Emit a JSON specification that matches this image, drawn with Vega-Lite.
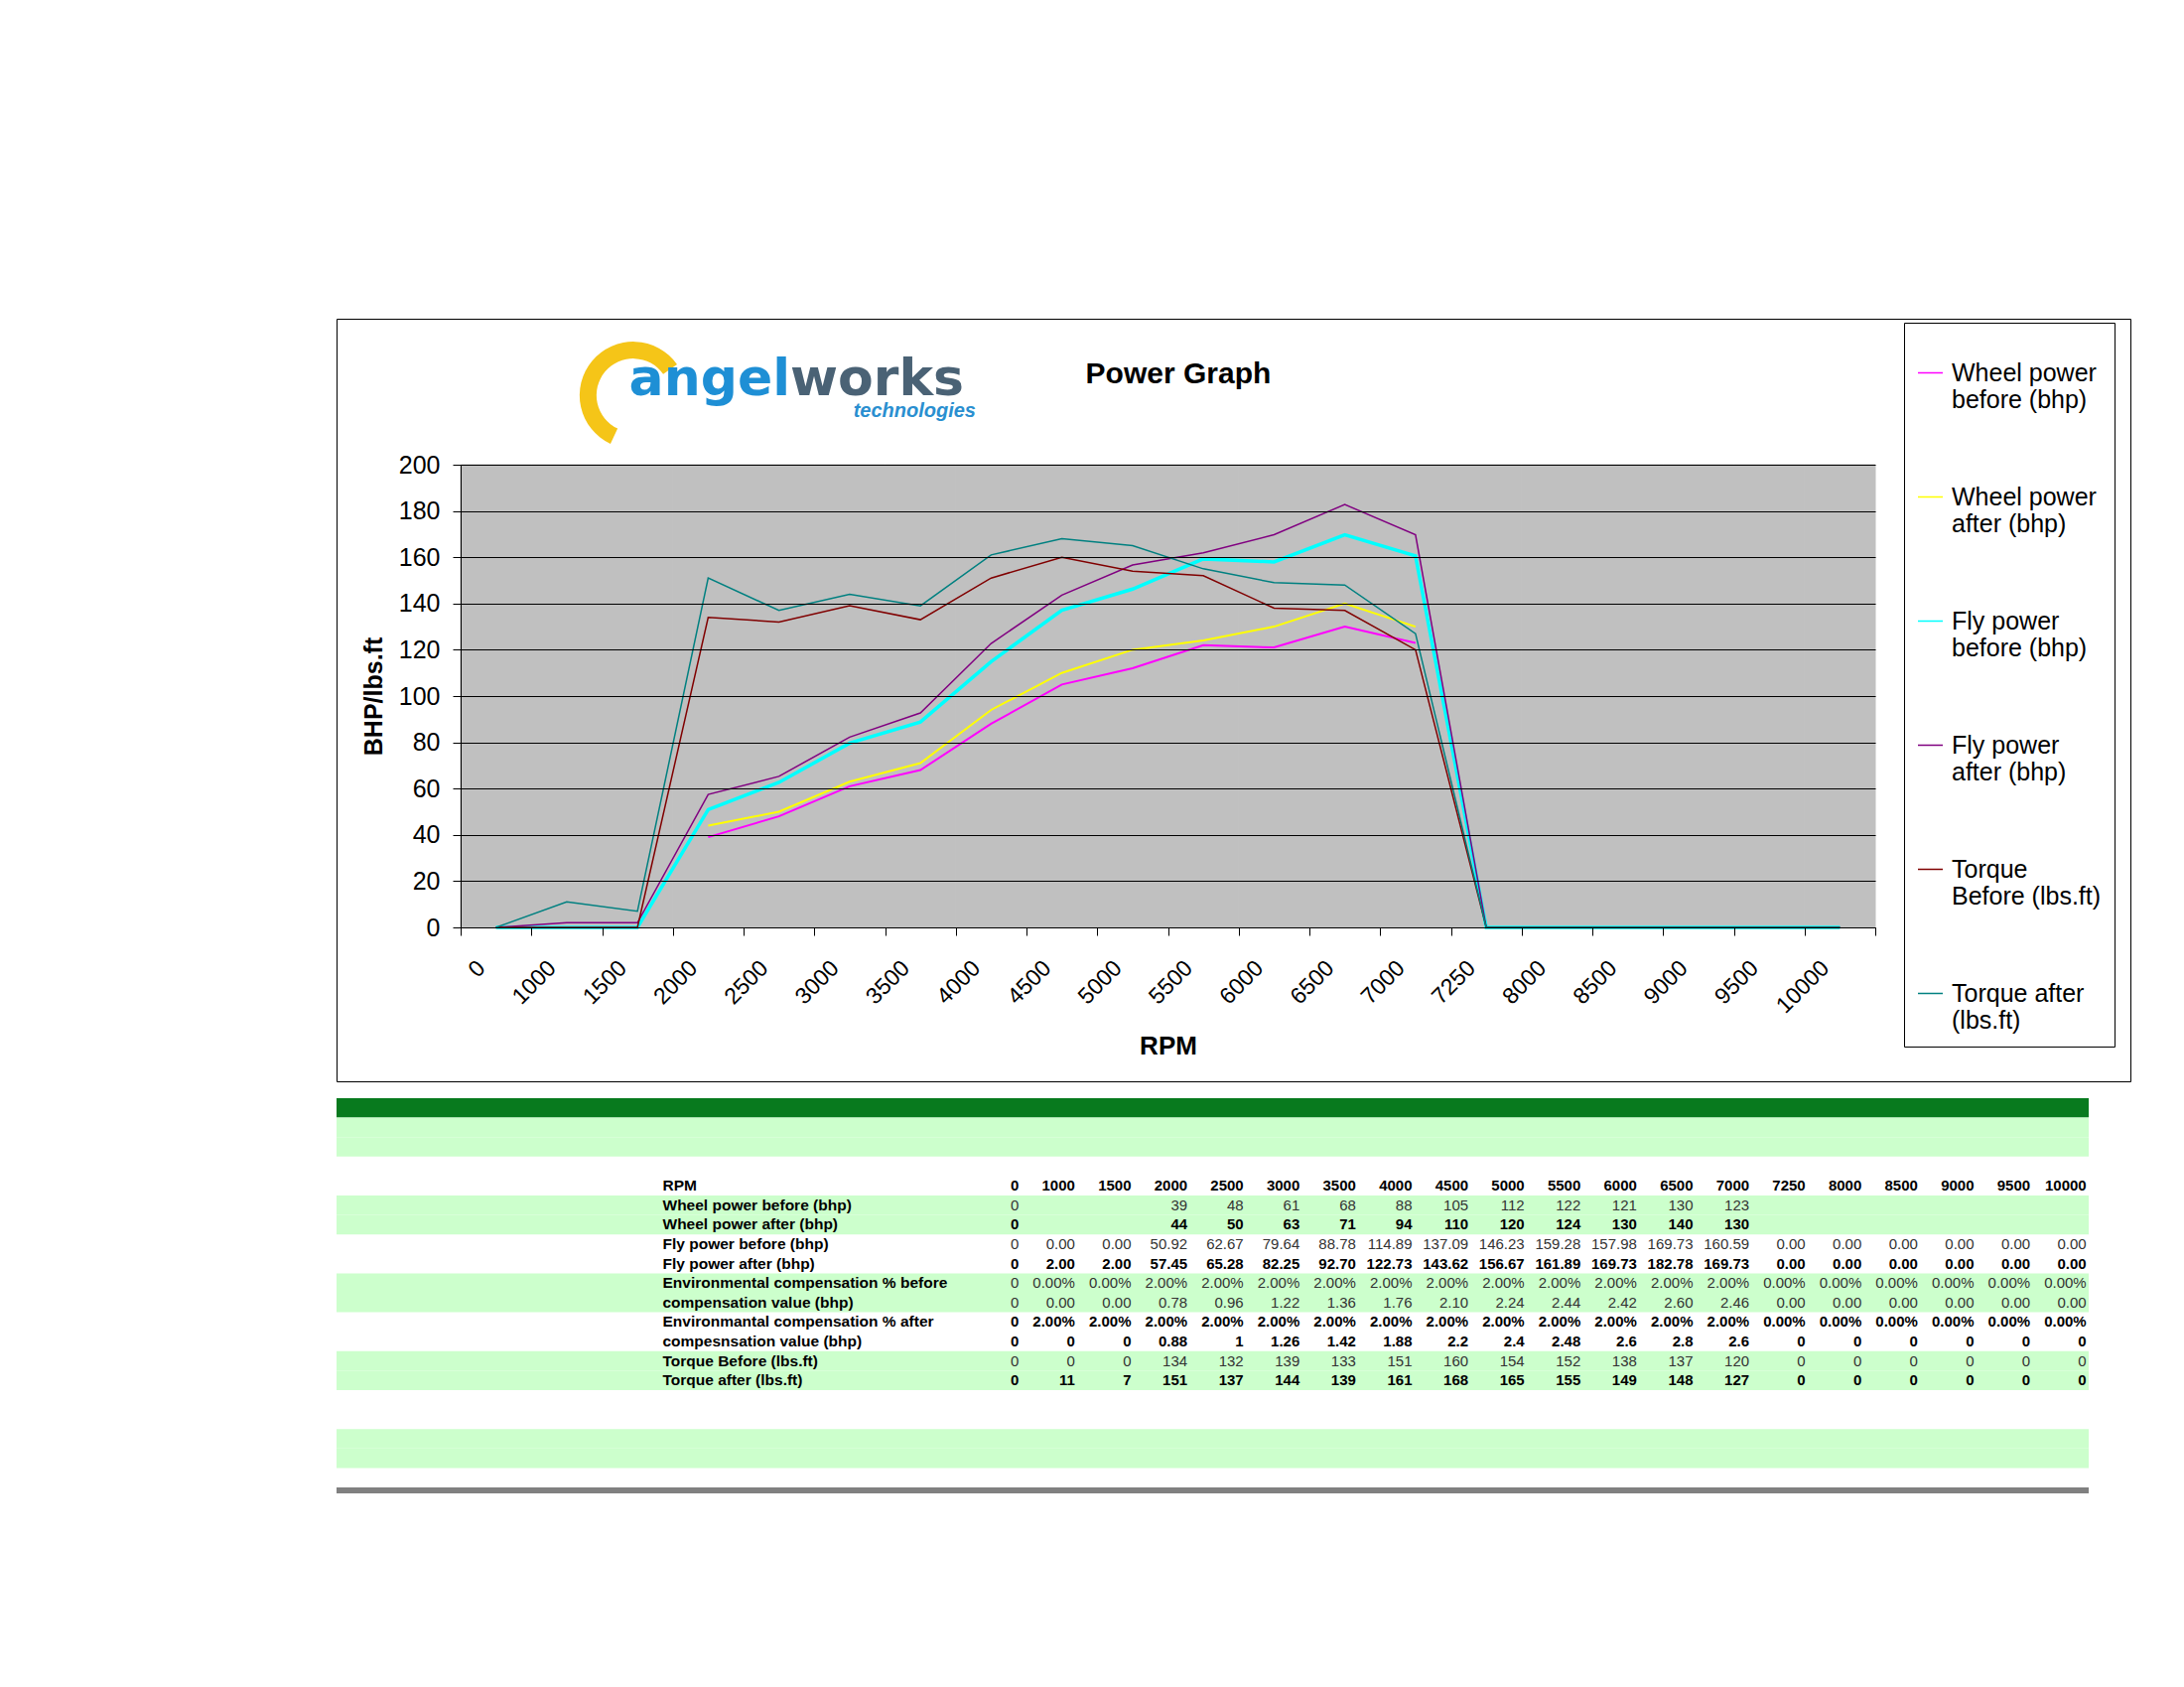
{
  "$schema": "https://vega.github.io/schema/vega-lite/v6.json",
  "background": "white",
  "padding": {"left": 330, "top": 320, "right": 10, "bottom": 10},
  "spacing": 16,
  "resolve": {"scale": {"color": "independent", "fill": "independent"}, "legend": {"color": "independent", "fill": "independent"}},
  "config": {
    "font": "Liberation Sans",
    "view": {"stroke": null},
    "axis": {"labelFont": "Liberation Sans", "titleFont": "Liberation Sans"},
    "legend": {"labelFont": "Liberation Sans"}
  },
  "datasets": {
    "chart": [
      {"rpm": 0, "wpb": 0, "wpa": 0, "fpb": 0, "fpa": 0, "tb": 0, "ta": 0},
      {"rpm": 1000, "wpb": null, "wpa": null, "fpb": 0, "fpa": 2, "tb": 0, "ta": 11},
      {"rpm": 1500, "wpb": null, "wpa": null, "fpb": 0, "fpa": 2, "tb": 0, "ta": 7},
      {"rpm": 2000, "wpb": 39, "wpa": 44, "fpb": 50.92, "fpa": 57.45, "tb": 134, "ta": 151},
      {"rpm": 2500, "wpb": 48, "wpa": 50, "fpb": 62.67, "fpa": 65.28, "tb": 132, "ta": 137},
      {"rpm": 3000, "wpb": 61, "wpa": 63, "fpb": 79.64, "fpa": 82.25, "tb": 139, "ta": 144},
      {"rpm": 3500, "wpb": 68, "wpa": 71, "fpb": 88.78, "fpa": 92.70, "tb": 133, "ta": 139},
      {"rpm": 4000, "wpb": 88, "wpa": 94, "fpb": 114.89, "fpa": 122.73, "tb": 151, "ta": 161},
      {"rpm": 4500, "wpb": 105, "wpa": 110, "fpb": 137.09, "fpa": 143.62, "tb": 160, "ta": 168},
      {"rpm": 5000, "wpb": 112, "wpa": 120, "fpb": 146.23, "fpa": 156.67, "tb": 154, "ta": 165},
      {"rpm": 5500, "wpb": 122, "wpa": 124, "fpb": 159.28, "fpa": 161.89, "tb": 152, "ta": 155},
      {"rpm": 6000, "wpb": 121, "wpa": 130, "fpb": 157.98, "fpa": 169.73, "tb": 138, "ta": 149},
      {"rpm": 6500, "wpb": 130, "wpa": 140, "fpb": 169.73, "fpa": 182.78, "tb": 137, "ta": 148},
      {"rpm": 7000, "wpb": 123, "wpa": 130, "fpb": 160.59, "fpa": 169.73, "tb": 120, "ta": 127},
      {"rpm": 7250, "wpb": null, "wpa": null, "fpb": 0, "fpa": 0, "tb": 0, "ta": 0},
      {"rpm": 8000, "wpb": null, "wpa": null, "fpb": 0, "fpa": 0, "tb": 0, "ta": 0},
      {"rpm": 8500, "wpb": null, "wpa": null, "fpb": 0, "fpa": 0, "tb": 0, "ta": 0},
      {"rpm": 9000, "wpb": null, "wpa": null, "fpb": 0, "fpa": 0, "tb": 0, "ta": 0},
      {"rpm": 9500, "wpb": null, "wpa": null, "fpb": 0, "fpa": 0, "tb": 0, "ta": 0},
      {"rpm": 10000, "wpb": null, "wpa": null, "fpb": 0, "fpa": 0, "tb": 0, "ta": 0}
    ],
    "table": [
      {"r": "RPM", "set": "header", "0": "0", "1000": "1000", "1500": "1500", "2000": "2000", "2500": "2500", "3000": "3000", "3500": "3500", "4000": "4000", "4500": "4500", "5000": "5000", "5500": "5500", "6000": "6000", "6500": "6500", "7000": "7000", "7250": "7250", "8000": "8000", "8500": "8500", "9000": "9000", "9500": "9500", "10000": "10000"},
      {"r": "Wheel power before (bhp)", "set": "before", "0": "0", "1000": "", "1500": "", "2000": "39", "2500": "48", "3000": "61", "3500": "68", "4000": "88", "4500": "105", "5000": "112", "5500": "122", "6000": "121", "6500": "130", "7000": "123", "7250": "", "8000": "", "8500": "", "9000": "", "9500": "", "10000": ""},
      {"r": "Wheel power after (bhp)", "set": "after", "0": "0", "1000": "", "1500": "", "2000": "44", "2500": "50", "3000": "63", "3500": "71", "4000": "94", "4500": "110", "5000": "120", "5500": "124", "6000": "130", "6500": "140", "7000": "130", "7250": "", "8000": "", "8500": "", "9000": "", "9500": "", "10000": ""},
      {"r": "Fly power before (bhp)", "set": "before", "0": "0", "1000": "0.00", "1500": "0.00", "2000": "50.92", "2500": "62.67", "3000": "79.64", "3500": "88.78", "4000": "114.89", "4500": "137.09", "5000": "146.23", "5500": "159.28", "6000": "157.98", "6500": "169.73", "7000": "160.59", "7250": "0.00", "8000": "0.00", "8500": "0.00", "9000": "0.00", "9500": "0.00", "10000": "0.00"},
      {"r": "Fly power after (bhp)", "set": "after", "0": "0", "1000": "2.00", "1500": "2.00", "2000": "57.45", "2500": "65.28", "3000": "82.25", "3500": "92.70", "4000": "122.73", "4500": "143.62", "5000": "156.67", "5500": "161.89", "6000": "169.73", "6500": "182.78", "7000": "169.73", "7250": "0.00", "8000": "0.00", "8500": "0.00", "9000": "0.00", "9500": "0.00", "10000": "0.00"},
      {"r": "Environmental compensation % before", "set": "before", "0": "0", "1000": "0.00%", "1500": "0.00%", "2000": "2.00%", "2500": "2.00%", "3000": "2.00%", "3500": "2.00%", "4000": "2.00%", "4500": "2.00%", "5000": "2.00%", "5500": "2.00%", "6000": "2.00%", "6500": "2.00%", "7000": "2.00%", "7250": "0.00%", "8000": "0.00%", "8500": "0.00%", "9000": "0.00%", "9500": "0.00%", "10000": "0.00%"},
      {"r": "compensation value (bhp)", "set": "before", "0": "0", "1000": "0.00", "1500": "0.00", "2000": "0.78", "2500": "0.96", "3000": "1.22", "3500": "1.36", "4000": "1.76", "4500": "2.10", "5000": "2.24", "5500": "2.44", "6000": "2.42", "6500": "2.60", "7000": "2.46", "7250": "0.00", "8000": "0.00", "8500": "0.00", "9000": "0.00", "9500": "0.00", "10000": "0.00"},
      {"r": "Environmantal compensation % after", "set": "after", "0": "0", "1000": "2.00%", "1500": "2.00%", "2000": "2.00%", "2500": "2.00%", "3000": "2.00%", "3500": "2.00%", "4000": "2.00%", "4500": "2.00%", "5000": "2.00%", "5500": "2.00%", "6000": "2.00%", "6500": "2.00%", "7000": "2.00%", "7250": "0.00%", "8000": "0.00%", "8500": "0.00%", "9000": "0.00%", "9500": "0.00%", "10000": "0.00%"},
      {"r": "compesnsation value (bhp)", "set": "after", "0": "0", "1000": "0", "1500": "0", "2000": "0.88", "2500": "1", "3000": "1.26", "3500": "1.42", "4000": "1.88", "4500": "2.2", "5000": "2.4", "5500": "2.48", "6000": "2.6", "6500": "2.8", "7000": "2.6", "7250": "0", "8000": "0", "8500": "0", "9000": "0", "9500": "0", "10000": "0"},
      {"r": "Torque Before (lbs.ft)", "set": "before", "0": "0", "1000": "0", "1500": "0", "2000": "134", "2500": "132", "3000": "139", "3500": "133", "4000": "151", "4500": "160", "5000": "154", "5500": "152", "6000": "138", "6500": "137", "7000": "120", "7250": "0", "8000": "0", "8500": "0", "9000": "0", "9500": "0", "10000": "0"},
      {"r": "Torque after (lbs.ft)", "set": "after", "0": "0", "1000": "11", "1500": "7", "2000": "151", "2500": "137", "3000": "144", "3500": "139", "4000": "161", "4500": "168", "5000": "165", "5500": "155", "6000": "149", "6500": "148", "7000": "127", "7250": "0", "8000": "0", "8500": "0", "9000": "0", "9500": "0", "10000": "0"}
    ],
    "stripes": [
      {"r": "~0", "k": "dark"},
      {"r": "~1", "k": "light"},
      {"r": "~2", "k": "light"},
      {"r": "Wheel power before (bhp)", "k": "light"},
      {"r": "Wheel power after (bhp)", "k": "light"},
      {"r": "Environmental compensation % before", "k": "light"},
      {"r": "compensation value (bhp)", "k": "light"},
      {"r": "Torque Before (lbs.ft)", "k": "light"},
      {"r": "Torque after (lbs.ft)", "k": "light"},
      {"r": "~17", "k": "light"},
      {"r": "~18", "k": "light"}
    ]
  },
  "vconcat": [
    {
      "width": 1807,
      "height": 768,
      "view": {"stroke": "black", "strokeWidth": 1, "fill": "white"},
      "layer": [
        {
          "data": {"name": "chart"},
          "mark": {"type": "rect", "fill": "#C0C0C0", "stroke": "#C0C0C0", "strokeWidth": 1},
          "encoding": {
            "x": {
              "field": "rpm", "type": "ordinal",
              "scale": {"domain": [0, 1000, 1500, 2000, 2500, 3000, 3500, 4000, 4500, 5000, 5500, 6000, 6500, 7000, 7250, 8000, 8500, 9000, 9500, 10000], "range": [125, 1550], "paddingInner": 0, "paddingOuter": 0},
              "axis": {
                "offset": -155, "zindex": 1, "tickBand": "extent", "grid": false,
                "labelAngle": -45, "labelAlign": "right", "labelBaseline": "middle",
                "labelPadding": 29, "labelOffset": -15, "labelFontSize": 23, "labelColor": "black", "labelOverlap": false,
                "tickSize": 8, "tickColor": "black", "domainColor": "black",
                "title": "RPM", "titleFontSize": 26, "titleFontWeight": "bold", "titleColor": "black", "titleY": 119, "titleBaseline": "middle"
              }
            },
            "y": {
              "datum": 0, "type": "quantitative",
              "scale": {"domain": [0, 200], "range": [613, 147], "nice": false, "zero": false},
              "axis": {
                "offset": -125, "zindex": 1, "values": [0, 20, 40, 60, 80, 100, 120, 140, 160, 180, 200],
                "grid": true, "gridColor": "black", "gridWidth": 1, "gridOpacity": 1,
                "tickSize": 8, "tickColor": "black", "domainColor": "black",
                "labelPadding": 13, "labelFontSize": 25, "labelColor": "black",
                "title": "BHP/lbs.ft", "titleFontSize": 25, "titleFontWeight": "bold", "titleColor": "black", "titleX": -88, "titleBaseline": "middle"
              }
            },
            "y2": {"datum": 200}
          }
        },
        {
          "data": {"name": "chart"},
          "transform": [{"fold": ["wpb", "wpa", "fpb", "fpa", "tb", "ta"], "as": ["series", "v"]}, {"filter": "datum.series == 'wpb' || datum.series == 'wpa'"}],
          "mark": {"type": "line", "strokeWidth": 2, "invalid": "break-paths-show-domains"},
          "encoding": {
            "x": {"field": "rpm", "type": "ordinal"},
            "y": {"field": "v", "type": "quantitative"},
            "color": {
              "field": "series", "type": "nominal",
              "scale": {"domain": ["wpb", "wpa", "fpb", "fpa", "tb", "ta"], "range": ["#FF00FF", "#FFFF00", "#00FFFF", "#800080", "#800000", "#008080"]},
              "legend": {
                "orient": "none", "legendX": 1579, "legendY": 4, "title": " ", "titleFontSize": 12, "titlePadding": 12, "direction": "vertical",
                "symbolType": "stroke", "symbolSize": 625, "symbolStrokeWidth": 1.5,
                "labelFontSize": 25, "labelColor": "black", "labelLimit": 300, "labelBaseline": "middle", "labelOffset": 8,
                "rowPadding": 71, "padding": 13, "strokeColor": "black", "fillColor": "white",
                "labelExpr": "datum.value == 'wpb' ? ['Wheel power', 'before (bhp)'] : datum.value == 'wpa' ? ['Wheel power', 'after (bhp)'] : datum.value == 'fpb' ? ['Fly power', 'before (bhp)'] : datum.value == 'fpa' ? ['Fly power', 'after (bhp)'] : datum.value == 'tb' ? ['Torque', 'Before (lbs.ft)'] : ['Torque after', '(lbs.ft)']"
              }
            }
          }
        },
        {
          "data": {"name": "chart"},
          "transform": [{"fold": ["wpb", "wpa", "fpb", "fpa", "tb", "ta"], "as": ["series", "v"]}, {"filter": "datum.series == 'fpb'"}],
          "mark": {"type": "line", "strokeWidth": 3.5, "invalid": "break-paths-show-domains"},
          "encoding": {
            "x": {"field": "rpm", "type": "ordinal"},
            "y": {"field": "v", "type": "quantitative"},
            "color": {"field": "series", "type": "nominal"}
          }
        },
        {
          "data": {"name": "chart"},
          "transform": [{"fold": ["wpb", "wpa", "fpb", "fpa", "tb", "ta"], "as": ["series", "v"]}, {"filter": "datum.series == 'fpa' || datum.series == 'tb' || datum.series == 'ta'"}],
          "mark": {"type": "line", "strokeWidth": 1.5, "invalid": "break-paths-show-domains"},
          "encoding": {
            "x": {"field": "rpm", "type": "ordinal"},
            "y": {"field": "v", "type": "quantitative"},
            "color": {"field": "series", "type": "nominal"}
          }
        },
        {
          "data": {"values": [{}]},
          "mark": {"type": "arc", "innerRadius": 37, "outerRadius": 54, "theta": 3.58, "theta2": 7.24, "color": "#F5C518"},
          "encoding": {
            "x": {"datum": 1500, "type": "ordinal", "bandPosition": 0.44},
            "y": {"datum": 230, "type": "quantitative"}
          }
        },
        {
          "data": {"values": [{}]},
          "mark": {"type": "text", "text": "angel", "font": "DejaVu Sans", "fontWeight": "bold", "fontSize": 52, "color": "#1E8FD5", "align": "right", "baseline": "alphabetic"},
          "encoding": {
            "x": {"datum": 2500, "type": "ordinal", "bandPosition": 0.66},
            "y": {"datum": 230, "type": "quantitative"}
          }
        },
        {
          "data": {"values": [{}]},
          "mark": {"type": "text", "text": "works", "font": "DejaVu Sans", "fontWeight": "bold", "fontSize": 52, "color": "#4A6275", "align": "left", "baseline": "alphabetic"},
          "encoding": {
            "x": {"datum": 2500, "type": "ordinal", "bandPosition": 0.66},
            "y": {"datum": 230, "type": "quantitative"}
          }
        },
        {
          "data": {"values": [{}]},
          "mark": {"type": "text", "text": "technologies", "fontStyle": "italic", "fontWeight": "bold", "fontSize": 20, "color": "#2A8FD0", "align": "right", "baseline": "alphabetic"},
          "encoding": {
            "x": {"datum": 4000, "type": "ordinal", "bandPosition": 0.284},
            "y": {"datum": 220.5, "type": "quantitative"}
          }
        },
        {
          "data": {"values": [{}]},
          "mark": {"type": "text", "text": "Power Graph", "fontWeight": "bold", "fontSize": 30, "color": "black", "align": "center", "baseline": "middle"},
          "encoding": {
            "x": {"datum": 5500, "type": "ordinal", "bandPosition": 0.147},
            "y": {"datum": 239.1, "type": "quantitative"}
          }
        }
      ]
    },
    {
      "width": 1765,
      "height": 411.6,
      "view": {"stroke": null},
      "encoding": {
        "y": {
          "field": "r", "type": "nominal",
          "scale": {"domain": ["~0", "~1", "~2", "~3", "RPM", "Wheel power before (bhp)", "Wheel power after (bhp)", "Fly power before (bhp)", "Fly power after (bhp)", "Environmental compensation % before", "compensation value (bhp)", "Environmantal compensation % after", "compesnsation value (bhp)", "Torque Before (lbs.ft)", "Torque after (lbs.ft)", "~15", "~16", "~17", "~18", "~19", "~20"], "paddingInner": 0, "paddingOuter": 0},
          "axis": {
            "orient": "left", "offset": -328, "zindex": 1, "title": null, "domain": false, "ticks": false, "tickSize": 0, "grid": false,
            "labelPadding": 0, "labelAlign": "left", "labelBaseline": "middle", "labelFontSize": 15.5, "labelFontWeight": "bold", "labelColor": "black", "labelLimit": 500, "labelOverlap": false,
            "labelExpr": "indexof(datum.label, '~') == 0 ? '' : datum.label"
          }
        }
      },
      "layer": [
        {
          "data": {"name": "stripes"},
          "mark": {"type": "rect"},
          "encoding": {
            "fill": {"field": "k", "type": "nominal", "scale": {"domain": ["dark", "light"], "range": ["#087A1E", "#CCFFCC"]}, "legend": null}
          }
        },
        {
          "data": {"values": [{}]},
          "mark": {"type": "rule", "color": "#808080", "strokeWidth": 6},
          "encoding": {"y": {"datum": "~20", "type": "nominal", "bandPosition": 0.153}}
        },
        {
          "data": {"name": "table"},
          "transform": [{"filter": "datum.set == 'before'"}, {"fold": ["0", "1000", "1500", "2000", "2500", "3000", "3500", "4000", "4500", "5000", "5500", "6000", "6500", "7000", "7250", "8000", "8500", "9000", "9500", "10000"], "as": ["key", "value"]}],
          "mark": {"type": "text", "align": "right", "baseline": "middle", "fontSize": 15, "color": "#333333"},
          "encoding": {
            "x": {"field": "key", "type": "nominal", "axis": null,
              "scale": {"domain": ["0", "1000", "1500", "2000", "2500", "3000", "3500", "4000", "4500", "5000", "5500", "6000", "6500", "7000", "7250", "8000", "8500", "9000", "9500", "10000"], "range": [659, 1791], "paddingInner": 0, "paddingOuter": 0}},
            "text": {"field": "value"}
          }
        },
        {
          "data": {"name": "table"},
          "transform": [{"filter": "datum.set != 'before'"}, {"fold": ["0", "1000", "1500", "2000", "2500", "3000", "3500", "4000", "4500", "5000", "5500", "6000", "6500", "7000", "7250", "8000", "8500", "9000", "9500", "10000"], "as": ["key", "value"]}],
          "mark": {"type": "text", "align": "right", "baseline": "middle", "fontSize": 15, "fontWeight": "bold", "color": "black"},
          "encoding": {
            "x": {"field": "key", "type": "nominal", "axis": null},
            "text": {"field": "value"}
          }
        }
      ]
    }
  ]
}
